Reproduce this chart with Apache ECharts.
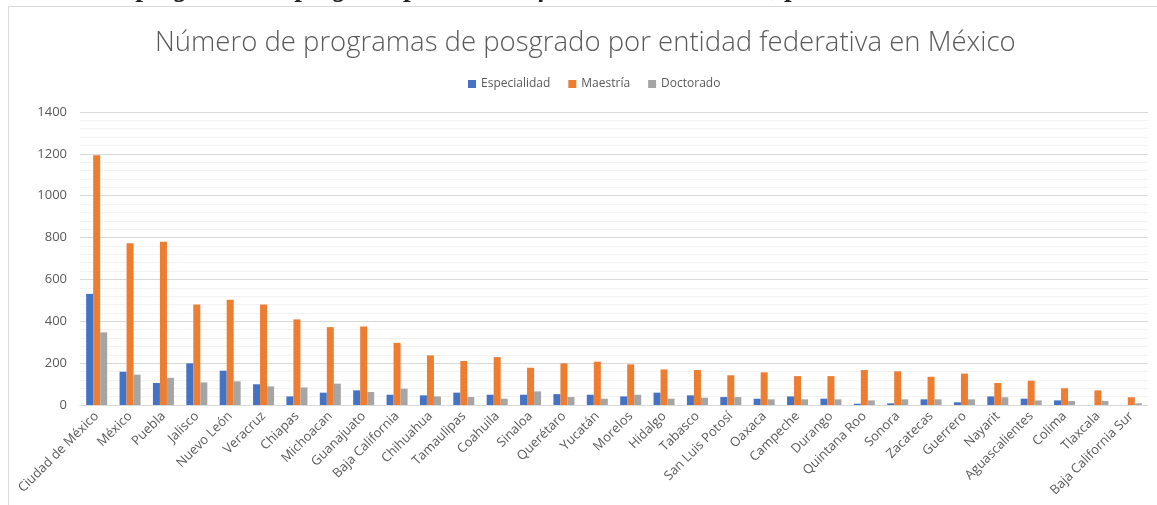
<!DOCTYPE html>
<html>
<head>
<meta charset="utf-8">
<script src="https://cdn.jsdelivr.net/npm/echarts@6/dist/echarts.min.js"></script>
<style>
  html, body { margin: 0; padding: 0; background: #fff; }
  #chart { width: 1157px; height: 505px; }
</style>
</head>
<body>
<div id="chart"></div>
<script>
// datos
const estados = ['Ciudad de México', 'México', 'Puebla', 'Jalisco', 'Nuevo León', 'Veracruz', 'Chiapas',
  'Michoacan', 'Guanajuato', 'Baja California', 'Chihuahua', 'Tamaulipas', 'Coahuila', 'Sinaloa',
  'Querétaro', 'Yucatán', 'Morelos', 'Hidalgo', 'Tabasco', 'San Luis Potosí', 'Oaxaca', 'Campeche',
  'Durango', 'Quintana Roo', 'Sonora', 'Zacatecas', 'Guerrero', 'Nayarit', 'Aguascalientes', 'Colima',
  'Tlaxcala', 'Baja California Sur']
const especialidad = [531, 159, 105, 199, 164, 99, 41, 59, 70, 49, 46, 59, 49, 49, 52, 49, 41, 59, 46, 38,
  30, 41, 30, 6, 8, 27, 13, 41, 30, 22, 0, 0]
const maestria = [1193, 773, 780, 480, 503, 480, 409, 372, 375, 297, 237, 210, 229, 178, 199, 207, 194, 170,
  167, 142, 156, 138, 138, 167, 161, 135, 150, 105, 116, 80, 70, 37]
const doctorado = [347, 145, 130, 108, 113, 89, 84, 102, 62, 78, 41, 38, 30, 65, 38, 30, 49, 30, 35, 38,
  27, 27, 27, 22, 27, 27, 27, 37, 22, 19, 19, 8]

const gris = '#595959'
let chart = echarts.init(document.getElementById('chart'))

chart.setOption({
  animation: false,
  textStyle: { fontFamily: 'Open Sans' },
  graphic: [
    {
      type: 'rect',
      shape: { x: 8.5, y: 6.5, width: 1170, height: 520 },
      style: { fill: 'none', stroke: '#d9d9d9', lineWidth: 1 }
    },
    {
      // pie de figura del documento, cortado arriba
      type: 'text',
      left: 7,
      top: -24,
      style: {
        text: 'Número de programas de posgrado por entidad federativa en México, periodo 2021-2022',
        font: 'italic bold 27px "Liberation Serif"',
        fill: '#222'
      }
    }
  ],
  title: {
    text: 'Número de programas de posgrado por entidad federativa en México',
    left: 150,
    top: 24,
    textStyle: { fontFamily: 'Open Sans', fontWeight: 300, fontSize: 27.5, color: gris }
  },
  legend: {
    top: 73,
    left: 463,
    itemWidth: 8,
    itemHeight: 8,
    itemGap: 18,
    icon: 'rect',
    textStyle: { color: gris, fontSize: 12 },
    data: ['Especialidad', 'Maestría', 'Doctorado']
  },
  grid: { left: 80, right: 9, top: 112, bottom: 100 },
  xAxis: {
    type: 'category',
    data: estados,
    axisLine: { lineStyle: { color: '#d9d9d9' } },
    axisTick: { show: false },
    axisLabel: { rotate: 45, color: gris, fontSize: 13, interval: 0, margin: 9 }
  },
  yAxis: {
    type: 'value',
    min: 0,
    max: 1400,
    interval: 200,
    axisLine: { show: false },
    axisTick: { show: false },
    axisLabel: { color: gris, fontSize: 13, margin: 13, formatter: v => String(v) },
    splitLine: { lineStyle: { color: '#d9d9d9' } },
    minorTick: { show: false, splitNumber: 5 },
    minorSplitLine: { show: true, lineStyle: { color: '#f2f2f2' } }
  },
  series: [
    {
      name: 'Especialidad',
      type: 'bar',
      data: especialidad,
      barGap: '0%',
      barCategoryGap: '37%',
      itemStyle: { color: '#4472C4' }
    },
    {
      name: 'Maestría',
      type: 'bar',
      data: maestria,
      barGap: '0%',
      barCategoryGap: '37%',
      itemStyle: { color: '#ED7D31' }
    },
    {
      name: 'Doctorado',
      type: 'bar',
      data: doctorado,
      barGap: '0%',
      barCategoryGap: '37%',
      itemStyle: { color: '#A5A5A5' }
    }
  ]
})
</script>
</body>
</html>
